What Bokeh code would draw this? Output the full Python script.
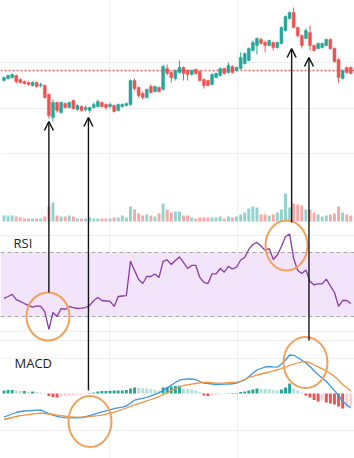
from bokeh.plotting import figure
from bokeh.models import Range1d, Span, BoxAnnotation, Label, Arrow, OpenHead
from bokeh.embed import file_html
from bokeh.resources import INLINE

# ---------------- data ----------------
open_ = [95, 96, 96.5, 97.5, 95.5, 94.5, 94, 92.5, 94, 92.5,
         92.5, 88, 76.5, 84, 79, 83.5, 81.5, 85, 80.5, 82,
         80.5, 80, 81.5, 82, 84, 83, 82, 82.5, 80, 82,
         82.5, 83, 95, 91.5, 88.5, 86.5, 92, 89.5, 91.5, 90.5,
         101, 99, 96, 99, 101.5, 100, 98, 100.5, 99.5, 95.5,
         95, 93, 96.5, 97.5, 101, 99, 102, 100, 101, 103.5,
         105, 110, 112.5, 115.5, 114, 112.5, 114, 111.5, 113.5, 120,
         126, 129, 121.5, 117.5, 116, 119, 112.5, 111, 111.5, 112.5,
         115.5, 111, 105.5, 96, 101.5, 101.5]
high = [97, 98, 98.5, 98, 96, 95, 94.5, 94.5, 94.5, 94,
        93, 88.5, 85.5, 84.5, 84.5, 84, 84.5, 85.5, 83, 82.5,
        82.5, 82, 84, 85.5, 84.5, 83.5, 84, 83, 83.5, 83.5,
        84, 95.5, 96, 92, 89.5, 91, 93, 92.5, 92, 103,
        103, 100, 100.5, 105, 102, 100.5, 100.5, 101, 100, 96,
        95.5, 98.5, 99, 101.5, 101.5, 104, 102.5, 102, 109, 109,
        111.5, 115, 116.5, 116.5, 115, 115.5, 114.5, 114.5, 122, 127.5,
        129.5, 131.5, 122, 118, 121, 122.5, 113, 114, 114, 116,
        116, 111.5, 106, 100.5, 102, 102]
low = [94.5, 95.5, 96, 93.5, 93.5, 93, 92.5, 92, 91.5, 91.5,
       86, 76, 74.5, 79, 78.5, 81, 81, 80.5, 80, 79.5,
       79.5, 79, 81, 81.5, 81.5, 80.5, 81, 79, 79.5, 81.5,
       82, 82.5, 90, 86.5, 85.5, 86, 88.5, 89, 89, 90,
       97.5, 94, 95, 98.5, 95, 95, 97.5, 98, 94.5, 91,
       92, 92.5, 96, 97, 98, 98.5, 98.5, 99.5, 100.5, 103,
       104.5, 109.5, 108, 113, 109, 112, 110, 111, 113, 119.5,
       125.5, 121, 116.5, 111, 115.5, 110, 109.5, 110.5, 111, 112,
       110.5, 104, 94, 95.5, 98.5, 98]
close = [96.5, 97.5, 98, 94.5, 94, 93.5, 93, 94, 92, 93,
         86.5, 77.5, 84, 80, 84, 81.5, 84, 81, 82.5, 80,
         81.5, 81.5, 83, 84.5, 82, 81.5, 83, 79.5, 83, 83,
         83.5, 95, 91, 87.5, 86.5, 90.5, 89, 92, 89.5, 102,
         98.5, 96.5, 100, 101.5, 98.5, 98, 100, 98.5, 95, 92.5,
         92.5, 98, 98.5, 101, 98.5, 102.5, 99, 101.5, 106.5, 108.5,
         111, 114, 116, 113.5, 112.5, 115, 111.5, 114, 121.5, 127,
         129, 121.5, 117.5, 112.5, 120, 112.5, 110, 113.5, 113.5, 115.5,
         111, 104.5, 96.5, 100, 99, 98.5]
volume = [60, 60, 60, 50, 40, 30, 30, 30, 30, 30,
          50, 150, 190, 60, 50, 50, 60, 50, 30, 30,
          30, 40, 30, 30, 30, 30, 30, 40, 40, 60,
          40, 150, 120, 80, 60, 70, 60, 50, 80, 180,
          120, 90, 100, 100, 60, 60, 40, 30, 40, 40,
          40, 40, 40, 50, 30, 50, 40, 50, 70, 90,
          130, 150, 140, 70, 70, 60, 70, 90, 120, 280,
          140, 180, 170, 160, 120, 120, 90, 70, 50, 60,
          70, 80, 150, 90, 70, 60]
rsi = [41.3, 42.5, 43.8, 40.6, 39.4, 38.1, 36.9, 35.9, 36.6, 36.3,
       33.1, 21.9, 32.5, 30.0, 35.0, 34.4, 36.3, 35.6, 35.0, 35.2,
       35.6, 36.9, 40.0, 41.9, 40.0, 39.7, 39.4, 36.3, 42.5, 42.8,
       43.1, 64.6, 58.8, 53.1, 50.6, 55.0, 55.0, 56.6, 54.4, 64.4,
       65.4, 62.5, 65.0, 67.2, 63.8, 60.0, 61.9, 61.9, 54.4, 51.3,
       50.6, 56.7, 56.7, 60.0, 57.7, 61.3, 59.7, 60.8, 65.3, 66.9,
       71.9, 75.0, 76.3, 74.1, 71.3, 72.5, 65.6, 68.4, 73.8, 80.0,
       81.6, 66.3, 58.8, 56.9, 59.1, 51.9, 49.7, 50.4, 50.4, 53.4,
       49.1, 45.0, 36.3, 40.0, 40.0, 38.1]
macd = [-2.37, -2.20, -2.05, -1.90, -1.80, -1.75, -1.72, -1.70, -1.66, -1.63,
        -1.83, -2.00, -2.17, -2.28, -2.36, -2.42, -2.43, -2.43, -2.43, -2.41,
        -2.32, -2.22, -2.09, -1.96, -1.83, -1.73, -1.63, -1.52, -1.44, -1.36,
        -1.25, -0.95, -0.67, -0.57, -0.48, -0.38, -0.23, -0.08, 0.07, 0.30,
        0.55, 0.84, 1.10, 1.34, 1.42, 1.45, 1.47, 1.40, 1.20, 1.03,
        0.99, 0.95, 0.90, 0.92, 0.94, 0.95, 0.97, 1.05, 1.20, 1.35,
        1.67, 2.02, 2.36, 2.50, 2.63, 2.70, 2.66, 2.63, 2.95, 3.35,
        3.85, 3.82, 3.60, 3.33, 3.05, 2.70, 2.28, 1.88, 1.55, 1.20,
        0.77, 0.28, -0.20, -0.75, -1.13, -1.46]
signal = [-2.60, -2.50, -2.40, -2.30, -2.22, -2.17, -2.12, -2.07, -2.02, -1.97,
          -2.00, -2.05, -2.10, -2.16, -2.22, -2.27, -2.31, -2.34, -2.36, -2.37,
          -2.37, -2.32, -2.27, -2.22, -2.16, -2.06, -1.96, -1.86, -1.73, -1.60,
          -1.45, -1.28, -1.15, -1.02, -0.88, -0.73, -0.60, -0.46, -0.30, -0.12,
          0.06, 0.30, 0.50, 0.63, 0.80, 0.87, 0.94, 1.00, 1.06, 1.12,
          1.10, 1.07, 1.04, 1.04, 1.06, 1.09, 1.11, 1.13, 1.25, 1.40,
          1.60, 1.72, 1.85, 1.95, 2.05, 2.15, 2.27, 2.37, 2.50, 2.65,
          2.80, 2.93, 3.05, 3.17, 3.17, 3.06, 2.85, 2.67, 2.47, 2.25,
          2.00, 1.70, 1.35, 0.90, 0.60, 0.25]
hist = [0.30, 0.35, 0.35, 0.30, 0.25, 0.25, 0.20, 0.20, 0.15, 0.10,
        0.05, -0.25, -0.35, -0.40, -0.30, -0.25, -0.20, -0.15, -0.12, -0.10,
        -0.06, 0.04, 0.10, 0.20, 0.25, 0.26, 0.27, 0.29, 0.30, 0.31,
        0.34, 0.50, 0.60, 0.58, 0.52, 0.50, 0.42, 0.35, 0.30, 0.60,
        0.65, 0.70, 0.75, 0.78, 0.50, 0.42, 0.38, 0.30, 0.15, -0.20,
        -0.25, -0.18, -0.15, -0.10, -0.06, 0.03, 0.05, 0.06, 0.15, 0.20,
        0.30, 0.40, 0.50, 0.48, 0.46, 0.42, 0.35, 0.30, 0.40, 0.60,
        1.00, 0.50, 0.30, 0.10, -0.20, -0.40, -0.65, -0.80, -0.70, -0.90,
        -1.00, -1.10, -1.30, -1.50, -1.40, -1.30]
ref_price = 100.0          # red dotted reference line
rsi_upper, rsi_lower = 70, 30

# annotation geometry (overlay coordinates: x = bar index, y = pixels from top)
arrow_x = [11.0, 20.7, 70.5, 74.75]
arrow_base = [292, 390, 222, 340]
arrow_tip = [121, 117, 48, 57]
circ_x = [10.78, 21.08, 69.24, 73.9]
circ_y = [316, 421, 245, 362]
circ_w = [43, 43, 42, 44]
circ_h = [48, 51, 50, 51]
grid_rows = [62, 108, 153, 235, 300, 331, 340, 358, 430]
grid_cols = [25.86, 57.23]

# ---------------- styling ----------------
UP, DOWN = "#26a69a", "#ef5350"
VUP, VDOWN = "#93d3cd", "#f6a9a7"
H_UP_STRONG, H_UP_WEAK = "#26a69a", "#b2dfdb"
H_DN_STRONG, H_DN_WEAK = "#ef5350", "#ffcdd2"
GRID = "#efefef"
ORANGE = "#f0a25c"

N = len(open_)
idx = list(range(N))
is_up = [c >= o for o, c in zip(open_, close)]
ccol = [UP if u else DOWN for u in is_up]
vcol = [VUP if u else VDOWN for u in is_up]
body_top = [max(o, c) for o, c in zip(open_, close)]
body_bot = [min(o, c) for o, c in zip(open_, close)]

hcol = []
for i, h in enumerate(hist):
    prev = hist[i - 1] if i > 0 else h
    if h >= 0:
        hcol.append(H_UP_STRONG if h >= prev else H_UP_WEAK)
    else:
        hcol.append(H_DN_STRONG if h < prev else H_DN_WEAK)

p = figure(width=354, height=458,
           x_range=Range1d(-0.858, 85.91), y_range=Range1d(-94, 135),
           toolbar_location=None, output_backend="svg", min_border=0,
           x_axis_location=None, y_axis_location=None,
           outline_line_color=None, background_fill_color="white",
           border_fill_color="white")
p.grid.visible = False
p.extra_y_ranges = {
    "vol": Range1d(-2370, 2210),
    "rsi": Range1d(-58.75, 227.5),
    "macd": Range1d(-6.5, 39.3),
    "overlay": Range1d(458, 0),
}

for g in grid_rows:
    p.add_layout(Span(location=g, dimension="width", y_range_name="overlay",
                      line_color=GRID, line_width=1, level="underlay"))
for g in grid_cols:
    p.add_layout(Span(location=g, dimension="height",
                      line_color=GRID, line_width=1, level="underlay"))

# RSI band
p.add_layout(BoxAnnotation(bottom=rsi_lower, top=rsi_upper, y_range_name="rsi",
                           fill_color="#f2e4fb", fill_alpha=1, line_color=None,
                           level="underlay"))
for lvl in (rsi_upper, rsi_lower):
    p.add_layout(Span(location=lvl, dimension="width", y_range_name="rsi",
                      line_color="#a5a5a5", line_dash="4 3", line_width=1,
                      level="underlay"))

# reference price line
p.add_layout(Span(location=ref_price, dimension="width", line_color="#e2645f",
                  line_dash="2 2", line_width=1.3, level="underlay"))

# volume
p.vbar(x=idx, top=volume, bottom=0, width=0.72, fill_color=vcol,
       line_color=None, y_range_name="vol")

# candles
p.segment(x0=idx, y0=high, x1=idx, y1=low, line_color=ccol, line_width=1)
p.vbar(x=idx, top=body_top, bottom=body_bot, width=0.72, fill_color=ccol,
       line_color=ccol, line_width=0.5)

# RSI
p.line(idx, rsi, y_range_name="rsi", line_color="#8a3aa6", line_width=1.3)

# MACD
p.vbar(x=idx, top=hist, bottom=0, width=0.72, fill_color=hcol,
       line_color=None, y_range_name="macd")
p.line(idx, macd, y_range_name="macd", line_color="#3d97da", line_width=1.3)
p.line(idx, signal, y_range_name="macd", line_color="#ec9340", line_width=1.3)

# labels
p.add_layout(Label(x=13, y=458 - 242, x_units="screen", y_units="screen",
                   text="RSI", text_font="Open Sans", text_font_size="13px",
                   text_baseline="middle", text_color="#222222"))
p.add_layout(Label(x=14, y=458 - 362, x_units="screen", y_units="screen",
                   text="MACD", text_font="Open Sans", text_font_size="13px",
                   text_baseline="middle", text_color="#222222"))

# highlight circles
p.ellipse(x=circ_x, y=circ_y, width=circ_w, height=circ_h,
          width_units="screen", height_units="screen",
          fill_color=None, line_color=ORANGE, line_width=2,
          y_range_name="overlay")

# arrows
for ax, yb, yt in zip(arrow_x, arrow_base, arrow_tip):
    p.add_layout(Arrow(end=OpenHead(size=9, line_width=1.5, line_color="#151515"),
                       x_start=ax, y_start=yb, x_end=ax, y_end=yt,
                       y_range_name="overlay", line_color="#151515",
                       line_width=1.4))

open("out.html", "w").write(file_html(p, INLINE))
